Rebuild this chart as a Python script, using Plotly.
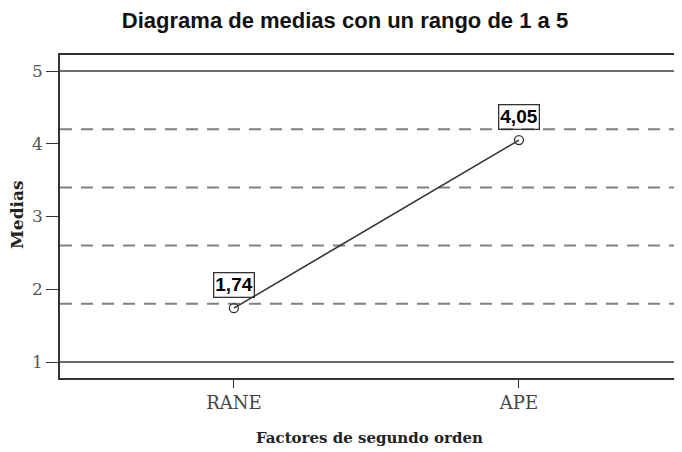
import plotly.graph_objects as go

categories = ["RANE", "APE"]
means = [1.74, 4.05]
mean_labels = ["1,74", "4,05"]
solid_refs = [5, 1]
dashed_refs = [4.2, 3.4, 2.6, 1.8]
y_ticks = [1, 2, 3, 4, 5]

fig = go.Figure()
fig.add_trace(go.Scatter(
    x=[0, 1], y=means, mode="lines+markers",
    line=dict(color="#333333", width=1.6),
    marker=dict(symbol="circle-open", size=9, color="#333333", line=dict(width=1.3)),
    hoverinfo="skip", showlegend=False,
))

shapes = []
for v in solid_refs:
    shapes.append(dict(type="line", xref="paper", yref="y", x0=0, x1=1, y0=v, y1=v,
                       line=dict(color="#6a6a6a", width=2), layer="below"))
for v in dashed_refs:
    shapes.append(dict(type="line", xref="paper", yref="y", x0=0, x1=1, y0=v, y1=v,
                       line=dict(color="#808080", width=2, dash="12px,9px"), layer="below"))

annotations = []
for i, (m, t) in enumerate(zip(means, mean_labels)):
    annotations.append(dict(x=i, y=m, xref="x", yref="y", text="<b>" + t + "</b>", showarrow=False,
                            yshift=23, font=dict(family="Liberation Sans, Arial", size=19, color="#000000"),
                            bordercolor="#333333", borderwidth=1.3, borderpad=1, bgcolor="rgba(255,255,255,0)"))

annotations.append(dict(text="<b>Medias</b>", xref="paper", yref="paper", x=-0.069, y=0.505,
                        xanchor="center", yanchor="middle", textangle=-90, showarrow=False,
                        font=dict(family="DejaVu Serif", size=17, color="#222222")))
annotations.append(dict(text="<b>Factores de segundo orden</b>", xref="paper", yref="paper",
                        x=0.498, y=-0.186, xanchor="center", yanchor="middle", showarrow=False,
                        font=dict(family="DejaVu Serif", size=15, color="#222222")))

# the page body adds an 8px margin, so the figure is 8px smaller and offsets shrink by 8
fig.update_layout(
    width=674, height=444,
    margin=dict(l=52, r=0, t=47, b=74),
    paper_bgcolor="white", plot_bgcolor="white",
    title=dict(text="<b>Diagrama de medias con un rango de 1 a 5</b>", x=0.5, xanchor="center",
               xref="container", y=0.973, yanchor="middle",
               font=dict(family="Liberation Sans, Arial", size=22, color="#111111")),
    shapes=shapes, annotations=annotations,
    xaxis=dict(range=[-0.61, 1.572], tickmode="array", tickvals=[0, 1], ticktext=categories,
               automargin=False,
               showgrid=False, zeroline=False, showline=True, mirror=True,
               linecolor="#333333", linewidth=1.5, ticks="outside", ticklen=8, tickwidth=1.3,
               tickcolor="#333333",
               tickfont=dict(family="DejaVu Serif", size=18, color="#444444")),
    yaxis=dict(range=[0.78, 5.22], tickmode="array", tickvals=y_ticks,
               automargin=False,
               showgrid=False, zeroline=False, showline=True, mirror=False,
               linecolor="#333333", linewidth=1.5, ticks="outside", ticklen=12, tickwidth=1.3,
               tickcolor="#333333",
               tickfont=dict(family="DejaVu Serif", size=17, color="#555555")),
)

fig.write_html("out.html")
